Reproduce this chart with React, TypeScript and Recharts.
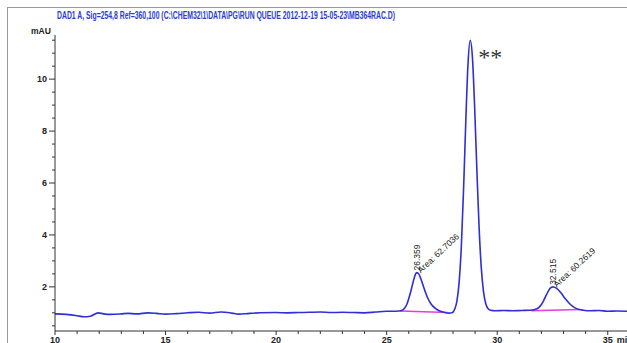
import { LineChart, Line, XAxis, YAxis, ReferenceLine, ReferenceDot } from 'recharts';

// signal (min, mAU)
const retentionTime = [
  10, 10.5, 11, 11.3, 11.6, 11.95, 12.2, 12.5, 13, 13.3, 13.7, 14.2, 14.6, 15, 15.5, 16, 16.5, 17,
  17.5, 18, 18.3, 18.8, 19.3, 20, 20.5, 21, 21.5, 22, 22.5, 23, 23.5, 24, 24.5, 25, 25.3, 25.55,
  25.7, 25.8, 25.9, 26.0, 26.1, 26.2, 26.3, 26.36, 26.45, 26.55, 26.65, 26.75, 26.85, 27.0, 27.2,
  27.4, 27.6, 27.8, 27.95,
  28.08, 28.18, 28.28, 28.38, 28.48, 28.58, 28.68, 28.78, 28.88, 28.98, 29.08, 29.18, 29.28, 29.38,
  29.48, 29.58, 29.7, 29.9,
  30.3, 30.7, 31.1, 31.5, 31.7, 31.8, 31.9, 32.0, 32.1, 32.2, 32.3, 32.4, 32.515, 32.6, 32.7, 32.8,
  32.9, 33.0, 33.1, 33.3, 33.5, 33.7, 33.9, 34.2, 34.6, 35.0, 35.4, 35.87,
];
const absorbance = [
  0.96, 0.94, 0.89, 0.85, 0.87, 1.0, 0.96, 0.94, 0.96, 0.98, 0.96, 1.0, 0.98, 0.95, 0.97, 1.0, 1.02, 0.99,
  1.03, 0.99, 0.95, 0.98, 1.0, 1.01, 1.0, 1.01, 1.02, 1.03, 1.01, 1.02, 1.01, 1.0, 1.03, 1.06, 1.06, 1.07,
  1.1, 1.17, 1.3, 1.55, 1.85, 2.2, 2.48, 2.55, 2.5, 2.3, 2.05, 1.8, 1.58, 1.35, 1.17,
  1.07, 1.02, 0.99, 1.0,
  1.15, 1.46, 2.2, 3.6, 5.8, 8.4, 10.6, 11.5, 10.83, 8.9, 6.5, 4.3, 2.73, 1.82,
  1.36, 1.17, 1.1, 1.08,
  1.09, 1.08, 1.09, 1.1, 1.13, 1.16, 1.22, 1.32, 1.47, 1.65, 1.82, 1.95, 2.0, 1.98, 1.93, 1.85,
  1.75, 1.63, 1.52, 1.33, 1.2, 1.13, 1.1, 1.08, 1.09, 1.06, 1.07, 1.06,
];

const xTicks = Array.from({ length: 26 }, (_, i) => 10 + i);
const xLabelTicks = [10, 15, 20, 25, 30, 35];
const yTicks = Array.from({ length: 23 }, (_, i) => 0.5 + i * 0.5);
const yLabelTicks = [2, 4, 6, 8, 10];

// integrated peaks
const peakTimes = [26.359, 32.515];
const peakHeights = [2.55, 2.0];
const peakAreas = ['62.7036', '60.2619'];
const baseStartX = [25.6, 31.55];
const baseStartY = [1.07, 1.08];
const baseEndX = [27.75, 33.75];
const baseEndY = [1.01, 1.13];

const mainPeakTime = 28.78;
const mainPeakHeight = 11.5;

const title =
  'DAD1 A, Sig=254,8 Ref=360,100 (C:\\CHEM32\\1\\DATA\\PG\\RUN QUEUE 2012-12-19 15-05-23\\MB364RAC.D)';

const data = retentionTime.map((t, i) => ({ t, v: absorbance[i] }));

const font = '"Liberation Sans", Arial, sans-serif';

function XTick({ x, y, payload }: any) {
  const major = xLabelTicks.includes(payload.value);
  return (
    <g>
      <line x1={x} x2={x} y1={y} y2={y + (major ? 4 : 3)} stroke="#333" />
      {major && (
        <text x={x} y={y + 12} textAnchor="middle" fontSize={9} fontWeight="bold" fontFamily={font} fill="#222">
          {payload.value}
        </text>
      )}
      {payload.value === 35 && (
        <text x={x + 9} y={y + 12} fontSize={9} fontWeight="bold" fontFamily={font} fill="#222">
          min
        </text>
      )}
    </g>
  );
}

function YTick({ x, y, payload }: any) {
  const major = yLabelTicks.includes(payload.value);
  return (
    <g>
      <line x1={x - (major ? 6 : 3)} x2={x} y1={y} y2={y} stroke="#333" />
      {major && (
        <text x={x - 8} y={y + 3} textAnchor="end" fontSize={9} fontWeight="bold" fontFamily={font} fill="#222">
          {payload.value}
        </text>
      )}
    </g>
  );
}

export default function App() {
  return (
    <div style={{ position: 'absolute', left: 0, top: 0, width: 627, height: 343, background: '#fff', overflow: 'hidden' }}>
      <div
        style={{
          position: 'absolute', left: 7, top: 7, right: 0, bottom: 0,
          borderLeft: '1px solid #9a9a9a', borderTop: '1px solid #9a9a9a',
        }}
      />
      <div style={{ position: 'absolute', left: 0, top: 0 }}>
        <LineChart width={627} height={343} data={data} margin={{ top: 35, right: 0, bottom: 0, left: 8 }}>
          <XAxis
            dataKey="t"
            type="number"
            domain={[10, 35.87]}
            ticks={xTicks}
            interval={0}
            allowDataOverflow
            height={12}
            tickSize={0}
            tickMargin={0}
            tickLine={false}
            axisLine={{ stroke: '#333' }}
            tick={<XTick />}
          />
          <YAxis
            type="number"
            domain={[0.3, 11.7]}
            ticks={yTicks}
            interval={0}
            allowDataOverflow
            width={47}
            tickSize={0}
            tickMargin={0}
            tickLine={false}
            axisLine={{ stroke: '#333' }}
            tick={<YTick />}
          />
          {peakTimes.map((_, i) => (
            <ReferenceLine
              key={'b' + i}
              segment={[{ x: baseStartX[i], y: baseStartY[i] }, { x: baseEndX[i], y: baseEndY[i] }]}
              stroke="#e040d8"
              strokeWidth={1.5}
            />
          ))}
          <Line
            dataKey="v"
            type="monotone"
            stroke="#2f2fd4"
            strokeWidth={1.6}
            dot={false}
            isAnimationActive={false}
          />
          {peakTimes.map((t, i) => (
            <ReferenceDot
              key={'p' + i}
              x={t}
              y={peakHeights[i]}
              r={0}
              fill="none"
              stroke="none"
              label={(props: any) => {
                const cx = props.viewBox.x;
                const cy = props.viewBox.y;
                return (
                  <g fontFamily={font} fontSize={8.5} fill="#222">
                    <text transform={`translate(${cx + 3},${cy - 2}) rotate(-90)`}>{t.toFixed(3)}</text>
                    <text transform={`translate(${cx + 4},${cy + 1}) rotate(-43)`}>{'Area: ' + peakAreas[i]}</text>
                  </g>
                );
              }}
            />
          ))}
          <ReferenceDot
            x={mainPeakTime}
            y={mainPeakHeight}
            r={0}
            fill="none"
            stroke="none"
            label={(props: any) => (
              <text
                x={props.viewBox.x + 8}
                y={props.viewBox.y + 25}
                fontFamily='"Liberation Serif", serif'
                fontSize={24}
                fill="#333"
              >
                **
              </text>
            )}
          />
        </LineChart>
      </div>
      <svg width={627} height={343} style={{ position: 'absolute', left: 0, top: 0, pointerEvents: 'none' }}>
        <text
          x={57}
          y={19}
          fontFamily={font}
          fontSize={10}
          fontWeight="bold"
          fill="#2a3bd0"
          textLength={338}
          lengthAdjust="spacingAndGlyphs"
        >
          {title}
        </text>
        <text x={31} y={34} fontFamily={font} fontSize={8.5} fontWeight="bold" fill="#222">
          mAU
        </text>
      </svg>
    </div>
  );
}
